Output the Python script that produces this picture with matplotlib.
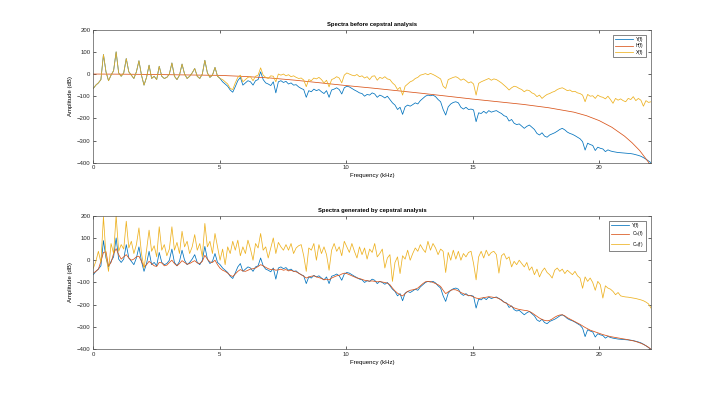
import numpy as np
import matplotlib
matplotlib.use("Agg")
import matplotlib.pyplot as plt

plt.rcParams['font.family'] = ['Liberation Sans', 'DejaVu Sans']

# frequency grid (kHz), 0 .. fs/2
freq = np.linspace(0, 22.05, 221)

y_db = [
    -65, -50, -40, -25, 88, 10, -30, -5, 15, 100,
    5, -10, 5, 70, 10, -5, -20, 10, 60, -5,
    -50, -15, 40, -20, -10, -25, 35, -10, -20, -15,
    0, 50, -10, -25, -5, 45, 0, -20, -10, 5,
    25, -10, -20, 0, 62, 5, -15, -5, 30, -10,
    -20, -35, -45, -55, -72, -82, -57, -30, -15, -50,
    -40, -30, -35, -50, -30, -25, 10, -25, -40, -45,
    -52, -35, -85, -35, -30, -38, -33, -45, -40, -50,
    -48, -58, -65, -70, -105, -75, -80, -68, -75, -70,
    -80, -88, -75, -105, -72, -68, -62, -70, -90, -62,
    -55, -58, -65, -72, -78, -85, -88, -100, -92, -95,
    -85, -90, -105, -95, -100, -108, -100, -115, -130, -140,
    -160, -150, -182, -148, -140, -145, -138, -130, -135, -120,
    -110, -100, -95, -98, -95, -102, -115, -125, -160, -185,
    -148, -135, -128, -125, -130, -150, -158, -150, -160, -158,
    -162, -215, -175, -178, -168, -177, -165, -172, -168, -165,
    -172, -178, -188, -192, -212, -205, -222, -228, -225, -235,
    -245, -236, -230, -240, -250, -268, -275, -265, -280, -285,
    -275, -270, -265, -258, -250, -245, -252, -262, -268, -272,
    -278, -285, -292, -305, -343, -312, -318, -322, -345, -330,
    -335, -338, -350, -342, -347, -350, -352, -354, -355, -356,
    -357, -358, -359, -361, -364, -367, -371, -377, -384, -392,
    -400,
]

# X(f) - source spectrum (dB), top panel
x_db = [
    -65, -50, -40, -25, 88, 10, -30, -5, 15, 100,
    5, -10, 5, 70, 10, -5, -20, 10, 60, -5,
    -50, -15, 40, -20, -10, -25, 35, -10, -20, -15,
    0, 50, -10, -25, -5, 45, 0, -20, -10, 5,
    25, -10, -20, 0, 62, 5, -15, -5, 30, -10,
    -20, -25, -35, -45, -65, -70, -40, -15, -5, -35,
    -25, -15, -12, -30, -10, -5, 28, -5, -15, -20,
    -8, -10, -35, 0, -5, 0, -8, -3, -12, -8,
    -15, -20, -18, -27, -57, -25, -30, -18, -22, -15,
    -25, -40, -28, -58, -25, -20, -12, -18, -40, -5,
    5, 0, -5, -8, -2, -12, -8, -18, -12, -25,
    -10, -8, -28, -15, -20, -12, -22, -25, -40, -50,
    -70, -60, -95, -55, -45, -35, -30, -20, -15, -5,
    -2, 2, -3, 3, -2, -8, -15, -22, -55, -65,
    -25, -20, -15, -12, -18, -28, -22, -30, -40, -35,
    -45, -95, -42, -35, -30, -25, -20, -28, -22, -25,
    -32, -40, -50, -60, -72, -62, -55, -58, -65, -70,
    -80, -72, -75, -85, -90, -102, -95, -110, -100, -92,
    -88, -82, -78, -70, -65, -62, -68, -75, -72, -80,
    -78, -85, -88, -95, -125, -92, -100, -98, -110, -95,
    -102, -105, -112, -100, -115, -132, -110, -118, -112, -120,
    -125, -110, -115, -102, -120, -110, -118, -145, -120, -128,
    -125,
]

# H(f) - filter response (dB), smooth
h_freq = [0, 1, 2, 3, 4, 5, 6, 7, 8, 9, 10, 11, 12, 13, 14, 15, 16, 17, 18,
          19, 19.5, 20, 20.5, 21, 21.3, 21.6, 21.8, 21.95, 22.05]
h_db = [0, -0.5, -1.5, -3, -4.5, -6, -11, -18, -28, -40, -52, -63, -75, -87,
        -100, -113, -125, -137, -152, -172, -188, -210, -240, -280, -310,
        -345, -375, -398, -420]

# C_h(f) - cepstral envelope (dB), bottom panel
ch_db = [
    -58, -50, -40, -5, 35, 38, -25, -10, 30, 52,
    25, 5, 15, 25, 10, 0, 5, 15, 18, -5,
    -30, -20, -5, -15, -25, -28, -10, -12, -25, -22,
    -10, 0, -15, -25, -15, -2, -10, -18, -15, -8,
    -2, -12, -15, -5, 22, 5, -8, -10, 0, -20,
    -36, -45, -50, -58, -68, -73, -62, -50, -42, -48,
    -50, -45, -40, -38, -35, -28, -20, -25, -32, -38,
    -42, -40, -45, -43, -40, -45, -42, -48, -45, -50,
    -52, -58, -65, -72, -80, -75, -72, -70, -75, -78,
    -82, -88, -85, -88, -80, -75, -70, -68, -62, -58,
    -60, -65, -70, -75, -80, -82, -86, -90, -92, -94,
    -93, -95, -97, -96, -98, -100, -103, -110, -125, -138,
    -148, -155, -160, -150, -140, -135, -133, -130, -125, -115,
    -105, -97, -95, -96, -100, -105, -110, -118, -135, -150,
    -142, -135, -132, -133, -138, -145, -150, -155, -158, -160,
    -165, -170, -172, -170, -168, -166, -164, -165, -167, -168,
    -172, -180, -188, -194, -200, -208, -214, -218, -221, -223,
    -225, -226, -230, -236, -244, -252, -260, -266, -270, -272,
    -270, -264, -256, -250, -246, -245, -250, -258, -264, -270,
    -276, -282, -288, -295, -302, -308, -314, -318, -322, -326,
    -330, -334, -337, -340, -343, -345, -347, -349, -351, -353,
    -355, -357, -360, -362, -365, -369, -373, -378, -384, -391,
    -400,
]

# C_x(f) - cepstral excitation (dB), bottom panel
cx_db = [
    -36, -5, 40, -10, 195, 20, -50, 75, 30, 200,
    40, 70, 50, 175, 55, 85, 30, 70, 145, 30,
    -36, 45, 135, 40, 65, 15, 150, 45, 70, 20,
    50, 150, 45, 80, 30, 130, 60, 85, 30, 60,
    115, 45, 75, 15, 165, 60, 85, 30, 120, 60,
    0, 50, -20, 60, 30, 85, 45, 90, 20, 60,
    30, 90, 50, 0, 75, 55, 120, 45, 60, 10,
    55, 100, 30, 80, 60, 45, 70, 45, 75, 30,
    55, 65, 70, 20, -50, 55, 45, 75, 0, 70,
    30, 60, 25, -45, 45, 75, 40, 60, 20, 85,
    60, 35, 75, 40, 10, 60, 25, 55, 5, 50,
    35, 75, 15, 30, 50, -35, 10, 25, -95, -10,
    15, -60, 20, 5, 45, 0, 30, 55, 40, 70,
    50, 35, 85, 45, 75, 55, 25, 50, 40, -55,
    35, 0, 45, 5, 40, 0, 30, 15, 35, 40,
    -15, -88, 15, 40, 10, 45, 20, 35, 40, 25,
    -58, 20, 30, 5, 15, -30, -5, -20, 0, -15,
    -30, -10, -45, -30, -65, -40, -75, -50, -35, -55,
    -65, -80, -45, -35, -50, -40, -60, -45, -55, -65,
    -50, -70, -80, -126, -75, -95, -80, -100, -135, -95,
    -110, -170, -115, -125, -130, -140, -155, -145, -160, -163,
    -165, -166, -168, -170, -172, -175, -178, -182, -188, -196,
    -215,
]

blue = '#0072BD'
red = '#D95319'
yellow = '#EDB120'
lw = 0.55

fig = plt.figure(figsize=(7.2, 3.93), dpi=100)
ax1 = fig.add_axes([0.1296, 0.586, 0.7746, 0.3384])
ax2 = fig.add_axes([0.1296, 0.1112, 0.7746, 0.3400])

ax1.plot(freq, y_db, color=blue, lw=lw, label='Y(f)')
ax1.plot(h_freq, h_db, color=red, lw=lw, label='H(f)')
ax1.plot(freq, x_db, color=yellow, lw=lw, label='X(f)')
ax1.set_title('Spectra before cepstral analysis', fontsize=4.2,
              fontweight='bold', pad=3)

ax2.plot(freq, y_db, color=blue, lw=lw, label='Y(f)')
ax2.plot(freq, ch_db, color=red, lw=lw, label='C$_h$(f)')
ax2.plot(freq, cx_db, color=yellow, lw=lw, label='C$_x$(f)')
ax2.set_title('Spectra generated by cepstral analysis', fontsize=4.2,
              fontweight='bold', pad=3)

for ax in (ax1, ax2):
    ax.set_xlim(0, 22.05)
    ax.set_ylim(-400, 200)
    ax.set_xticks([0, 5, 10, 15, 20])
    ax.set_yticks(np.arange(-400, 201, 100))
    ax.tick_params(direction='in', top=True, right=True, length=2.5,
                   width=0.5, labelsize=4.3, colors='#262626', pad=2)
    for s in ax.spines.values():
        s.set_linewidth(0.5)
        s.set_color('#555555')
    ax.set_xlabel('Frequency (kHz)', fontsize=4.3, labelpad=2)
    ax.set_ylabel('Amplitude (dB)', fontsize=4.3, labelpad=3)
    leg = ax.legend(loc='upper right', fontsize=3.3, handlelength=4.0,
                    frameon=True, fancybox=False, borderpad=0.4,
                    labelspacing=0.3, handletextpad=0.6,
                    borderaxespad=1.2)
    leg.get_frame().set_edgecolor('#262626')
    leg.get_frame().set_linewidth(0.5)

fig.savefig('out.png', dpi=100)
